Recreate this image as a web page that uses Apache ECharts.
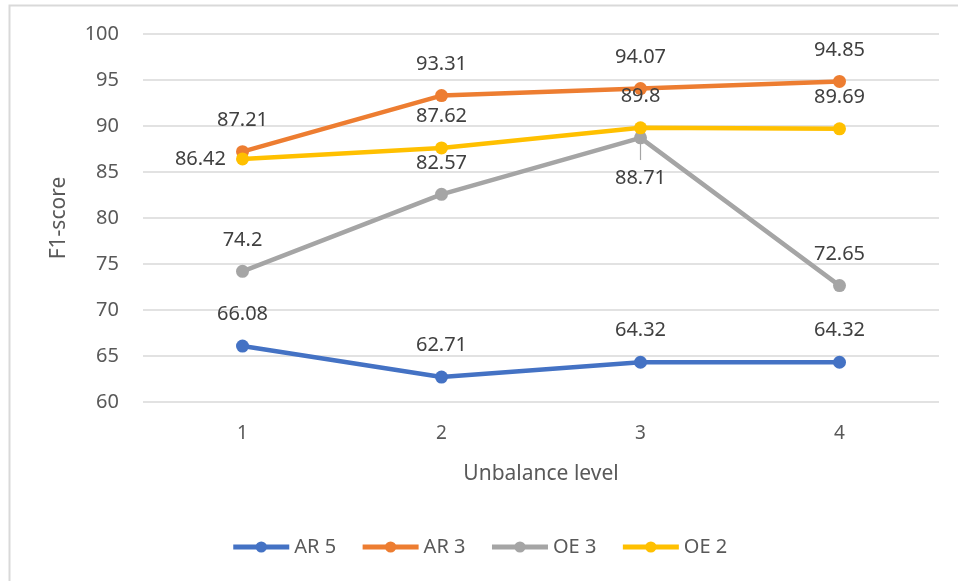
<!DOCTYPE html>
<html>
<head>
<meta charset="utf-8">
<script src="https://cdn.jsdelivr.net/npm/echarts@6/dist/echarts.min.js"></script>
<style>
  html, body { margin: 0; padding: 0; background: #fff; }
  #chart { width: 958px; height: 581px; }
</style>
</head>
<body>
<div id="chart"></div>
<script>
// Unbalance levels on the x axis
const levels = ['1', '2', '3', '4'];

// F1-score per model
const ar5 = [66.08, 62.71, 64.32, 64.32];
const ar3 = [87.21, 93.31, 94.07, 94.85];
const oe3 = [74.2, 82.57, 88.71, 72.65];
const oe2 = [86.42, 87.62, 89.8, 89.69];

// y axis range
const yMin = 60, yMax = 100, yStep = 5;

const font = 'Noto Sans, Open Sans, sans-serif';
const textColor = '#404040';

function lineSeries(name, data, color, labelPositions) {
  return {
    name: name,
    type: 'line',
    data: data.map((v, i) => ({
      value: v,
      label: labelPositions[i]
    })),
    symbol: 'circle',
    symbolSize: 13,
    lineStyle: { width: 4.5, color: color },
    itemStyle: { color: color },
    label: {
      show: true,
      position: 'top',
      distance: 15,
      fontFamily: font,
      fontSize: 20,
      color: textColor
    },
    emphasis: { disabled: true },
    z: 3
  };
}

const chart = echarts.init(document.getElementById('chart'));
chart.setOption({
  animation: false,
  backgroundColor: '#fff',
  graphic: [{
    type: 'rect',
    shape: { x: 9.5, y: 5.5, width: 1000, height: 600 },
    style: { fill: 'none', stroke: '#d9d9d9', lineWidth: 2 },
    silent: true,
    z: -1
  }],
  grid: { left: 143, right: 19, top: 34, bottom: 179 },
  xAxis: {
    type: 'category',
    data: levels,
    boundaryGap: true,
    axisLine: { show: false },
    axisTick: { show: false },
    axisLabel: { fontFamily: font, fontSize: 19, color: '#595959', margin: 22 },
    name: 'Unbalance level',
    nameLocation: 'middle',
    nameGap: 62,
    nameTextStyle: { fontFamily: font, fontSize: 21, color: '#595959' }
  },
  yAxis: {
    type: 'value',
    min: yMin,
    max: yMax,
    interval: yStep,
    axisLine: { show: false },
    axisTick: { show: false },
    splitLine: { lineStyle: { color: '#d9d9d9', width: 1.5 } },
    axisLabel: { fontFamily: font, fontSize: 20, color: '#595959', margin: 24 },
    name: 'F1-score',
    nameLocation: 'middle',
    nameGap: 73,
    nameRotate: 90,
    nameTextStyle: { fontFamily: font, fontSize: 21, color: '#595959' }
  },
  legend: {
    bottom: 19,
    left: 'center',
    itemWidth: 56,
    itemHeight: 14,
    itemGap: 24,
    lineStyle: { width: 5 },
    textStyle: { fontFamily: font, fontSize: 20, color: '#595959' },
    data: ['AR 5', 'AR 3', 'OE 3', 'OE 2']
  },
  series: [
    lineSeries('AR 5', ar5, '#4472C4', [{}, {}, {}, {}]),
    lineSeries('AR 3', ar3, '#ED7D31', [{}, {}, {}, {}]),
    Object.assign(
      lineSeries('OE 3', oe3, '#A5A5A5', [{}, {}, { position: 'bottom', distance: 24 }, {}]),
      {
        markLine: {
          silent: true,
          symbol: 'none',
          label: { show: false },
          lineStyle: { color: '#A5A5A5', width: 1.2, type: 'solid' },
          data: [[{ coord: ['3', oe3[2]] }, { coord: ['3', 86.3] }]]
        }
      }
    ),
    lineSeries('OE 2', oe2, '#FFC000', [{ position: 'left', distance: 10 }, {}, {}, {}])
  ]
});
</script>
</body>
</html>
